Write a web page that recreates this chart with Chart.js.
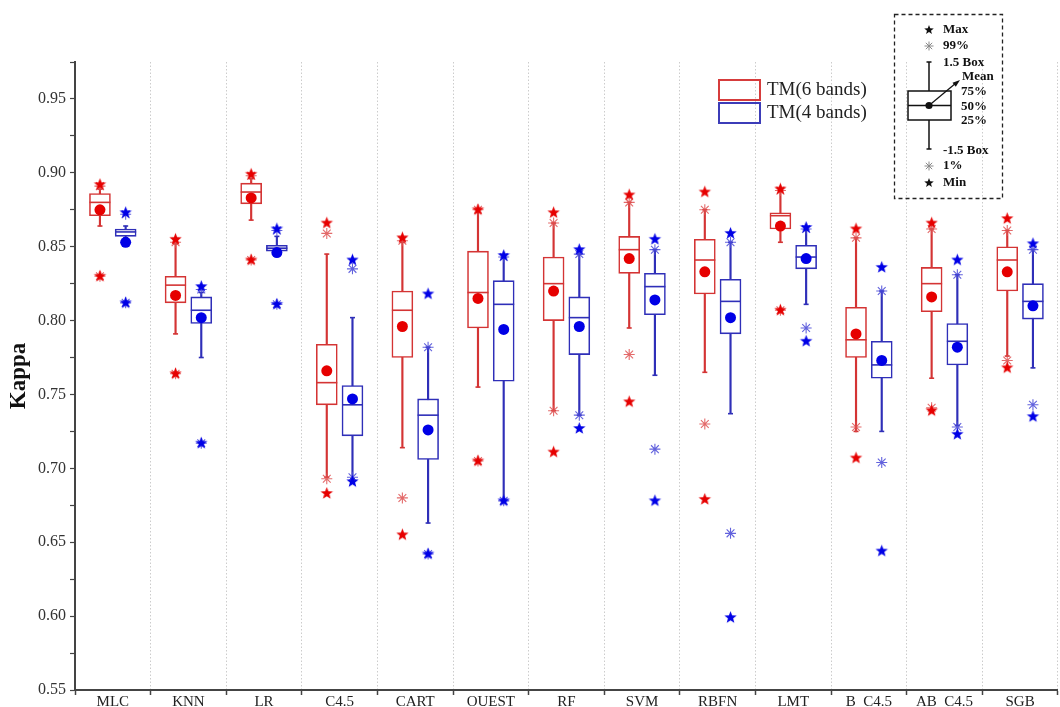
<!DOCTYPE html>
<html>
<head>
<meta charset="utf-8">
<title>Kappa by classifier</title>
<script src="https://cdn.jsdelivr.net/npm/chart.js@4.4.0/dist/chart.umd.min.js"></script>
<style>
  html, body { margin: 0; padding: 0; overflow: hidden; background: #fff; }
  canvas { display: block; }
</style>
</head>
<body>
<canvas id="chart" width="1070" height="707"></canvas>
<script>
// Classifiers along the x axis
const categories = ['MLC', 'KNN', 'LR', 'C4.5', 'CART', 'OUEST', 'RF', 'SVM', 'RBFN', 'LMT', 'B  C4.5', 'AB  C4.5', 'SGB'];

// Kappa summary statistics, TM (6 bands)
const tm6Max     = [0.892, 0.855, 0.899, 0.866, 0.856, 0.875, 0.873, 0.885, 0.887, 0.889, 0.862, 0.866, 0.869];
const tm6P99     = [0.891, 0.853, 0.898, 0.859, 0.854, 0.875, 0.866, 0.880, 0.875, 0.888, 0.856, 0.862, 0.861];
const tm6WhiskHi = [0.889, 0.852, 0.896, 0.845, 0.853, 0.875, 0.866, 0.880, 0.875, 0.888, 0.856, 0.862, 0.861];
const tm6Q3      = [0.886, 0.830, 0.893, 0.784, 0.820, 0.847, 0.843, 0.857, 0.855, 0.873, 0.809, 0.836, 0.850];
const tm6Median  = [0.880, 0.824, 0.887, 0.758, 0.807, 0.819, 0.825, 0.848, 0.841, 0.871, 0.787, 0.825, 0.841];
const tm6Q1      = [0.871, 0.812, 0.879, 0.743, 0.775, 0.795, 0.800, 0.832, 0.818, 0.862, 0.775, 0.806, 0.820];
const tm6WhiskLo = [0.864, 0.791, 0.868, 0.694, 0.714, 0.755, 0.739, 0.795, 0.765, 0.853, 0.725, 0.761, 0.776];
const tm6P1      = [0.830, 0.764, 0.841, 0.693, 0.680, 0.705, 0.739, 0.777, 0.730, 0.807, 0.728, 0.741, 0.773];
const tm6Min     = [0.830, 0.764, 0.841, 0.683, 0.655, 0.705, 0.711, 0.745, 0.679, 0.807, 0.707, 0.739, 0.768];
const tm6Mean    = [0.875, 0.817, 0.883, 0.766, 0.796, 0.815, 0.820, 0.842, 0.833, 0.864, 0.791, 0.816, 0.833];

// Kappa summary statistics, TM (4 bands)
const tm4Max     = [0.873, 0.823, 0.862, 0.841, 0.818, 0.844, 0.848, 0.855, 0.859, 0.863, 0.836, 0.841, 0.852];
const tm4P99     = [0.872, 0.821, 0.861, 0.835, 0.782, 0.843, 0.845, 0.848, 0.853, 0.862, 0.820, 0.831, 0.848];
const tm4WhiskHi = [0.864, 0.819, 0.857, 0.802, 0.782, 0.843, 0.845, 0.848, 0.853, 0.862, 0.820, 0.831, 0.848];
const tm4Q3      = [0.862, 0.816, 0.851, 0.756, 0.747, 0.827, 0.816, 0.832, 0.828, 0.851, 0.786, 0.798, 0.825];
const tm4Median  = [0.860, 0.807, 0.849, 0.743, 0.736, 0.811, 0.802, 0.823, 0.813, 0.843, 0.770, 0.786, 0.813];
const tm4Q1      = [0.857, 0.798, 0.847, 0.722, 0.706, 0.759, 0.777, 0.804, 0.791, 0.835, 0.761, 0.770, 0.801];
const tm4WhiskLo = [0.856, 0.775, 0.845, 0.693, 0.663, 0.678, 0.736, 0.763, 0.737, 0.811, 0.725, 0.729, 0.768];
const tm4P1      = [0.812, 0.717, 0.811, 0.694, 0.642, 0.678, 0.736, 0.713, 0.656, 0.795, 0.704, 0.728, 0.743];
const tm4Min     = [0.812, 0.717, 0.811, 0.691, 0.642, 0.678, 0.727, 0.678, 0.599, 0.786, 0.644, 0.723, 0.735];
const tm4Mean    = [0.853, 0.802, 0.846, 0.747, 0.726, 0.794, 0.796, 0.814, 0.802, 0.842, 0.773, 0.782, 0.810];

// Y axis range and steps
const yMin = 0.55, yMax = 0.975, yMinorStep = 0.025, yMajorStep = 0.05;

const SERIF = '"Liberation Serif", "Times New Roman", serif';
Chart.defaults.font.family = SERIF;

// Filled five-point star used for max / min markers
function starImage(color, r) {
  const c = document.createElement('canvas');
  const s = Math.ceil(r * 2 + 2);
  c.width = s; c.height = s;
  const g = c.getContext('2d');
  g.fillStyle = color;
  g.beginPath();
  for (let k = 0; k < 10; k++) {
    const rr = k % 2 === 0 ? r : r * 0.42;
    const a = -Math.PI / 2 + k * Math.PI / 5;
    const px = s / 2 + rr * Math.cos(a), py = s / 2 + rr * Math.sin(a);
    k === 0 ? g.moveTo(px, py) : g.lineTo(px, py);
  }
  g.closePath();
  g.fill();
  return c;
}

const SHIFT = 0.17;      // half the spacing between the paired boxes (category units)
const BOX_W = 21;        // box width in px

const series = [
  { side: -1, mark: '#e60000', line: '#d43434', soft: 'rgba(222,80,80,0.85)',
    max: tm6Max, p99: tm6P99, hi: tm6WhiskHi, q3: tm6Q3, med: tm6Median, q1: tm6Q1, lo: tm6WhiskLo, p1: tm6P1, min: tm6Min, mean: tm6Mean },
  { side: 1, mark: '#0000e6', line: '#2f2fb8', soft: 'rgba(70,70,215,0.85)',
    max: tm4Max, p99: tm4P99, hi: tm4WhiskHi, q3: tm4Q3, med: tm4Median, q1: tm4Q1, lo: tm4WhiskLo, p1: tm4P1, min: tm4Min, mean: tm4Mean }
];

const pts = (s, arr) => arr.map((v, i) => ({ x: i + s.side * SHIFT, y: v }));
const range = (s, a, b) => a.map((v, i) => ({ x: i + s.side * SHIFT, y: [v, b[i]] }));

const datasets = [];
series.forEach(s => {
  const common = { xAxisID: 'xv', yAxisID: 'y' };
  const star = starImage(s.mark, 6.5);
  datasets.push(
    { ...common, type: 'bar', data: range(s, s.lo, s.hi), backgroundColor: s.line, borderWidth: 0,
      barThickness: 1.5, grouped: false, order: 7 },
    { ...common, type: 'bar', data: range(s, s.q1, s.q3), backgroundColor: '#ffffff', borderColor: s.line,
      borderWidth: 1.6, borderSkipped: false, barThickness: BOX_W, grouped: false, order: 6 },
    { ...common, type: 'scatter', data: pts(s, s.med), pointStyle: 'line', pointRadius: BOX_W / 2,
      borderColor: s.line, borderWidth: 1.6, order: 5 },
    { ...common, type: 'scatter', data: pts(s, s.lo).concat(pts(s, s.hi)), pointStyle: 'line', pointRadius: 2.5,
      borderColor: s.line, borderWidth: 1.6, order: 5 },
    { ...common, type: 'scatter', data: pts(s, s.p99).concat(pts(s, s.p1)), pointStyle: 'star', pointRadius: 5.5,
      borderColor: s.soft, backgroundColor: s.soft, borderWidth: 1.1, order: 4 },
    { ...common, type: 'scatter', data: pts(s, s.max).concat(pts(s, s.min)), pointStyle: star, pointRadius: 6,
      order: 3 },
    { ...common, type: 'scatter', data: pts(s, s.mean), pointStyle: 'circle', pointRadius: 5.5,
      backgroundColor: s.mark, borderWidth: 0, order: 2 }
  );
});

// Series legend and box-plot key, drawn over the plot area
const keyPlugin = {
  id: 'keys',
  afterDraw(chart) {
    const ctx = chart.ctx;
    ctx.save();
    // Series legend
    const legend = [['TM(6 bands)', '#d63c3c'], ['TM(4 bands)', '#3c3cb8']];
    ctx.font = '19px ' + SERIF;
    ctx.textBaseline = 'middle';
    ctx.textAlign = 'left';
    legend.forEach(([txt, col], k) => {
      const y = 80 + k * 23;
      ctx.lineWidth = 2;
      ctx.strokeStyle = col;
      ctx.strokeRect(719, y, 41, 20);
      ctx.fillStyle = '#222';
      ctx.fillText(txt, 767, y + 10.5);
    });

    // Box-plot key
    ctx.setLineDash([4, 3]);
    ctx.lineWidth = 1.3;
    ctx.strokeStyle = '#222';
    ctx.strokeRect(894.5, 14.5, 108, 184);
    ctx.setLineDash([]);

    const cx = 929, tx = 943;
    const drawStar = (x, y, r) => {
      ctx.beginPath();
      for (let k = 0; k < 10; k++) {
        const rr = k % 2 === 0 ? r : r * 0.42;
        const a = -Math.PI / 2 + k * Math.PI / 5;
        const px = x + rr * Math.cos(a), py = y + rr * Math.sin(a);
        k === 0 ? ctx.moveTo(px, py) : ctx.lineTo(px, py);
      }
      ctx.closePath();
      ctx.fillStyle = '#111';
      ctx.fill();
    };
    const drawAst = (x, y, r) => {
      ctx.strokeStyle = '#8a8a8a';
      ctx.lineWidth = 1;
      ctx.beginPath();
      for (let k = 0; k < 4; k++) {
        const a = k * Math.PI / 4;
        ctx.moveTo(x - r * Math.cos(a), y - r * Math.sin(a));
        ctx.lineTo(x + r * Math.cos(a), y + r * Math.sin(a));
      }
      ctx.stroke();
    };
    const seg = (x1, y1, x2, y2) => { ctx.beginPath(); ctx.moveTo(x1, y1); ctx.lineTo(x2, y2); ctx.stroke(); };

    drawStar(cx, 30, 5);
    drawAst(cx, 46, 4.5);
    drawAst(cx, 166, 4.5);
    drawStar(cx, 183, 5);

    ctx.strokeStyle = '#111';
    ctx.lineWidth = 1.5;
    seg(cx, 62, cx, 91);
    seg(cx, 120, cx, 149);
    seg(cx - 2.5, 62, cx + 2.5, 62);
    seg(cx - 2.5, 149, cx + 2.5, 149);
    ctx.strokeRect(908, 91, 43, 29);
    seg(908, 105.5, 951, 105.5);
    ctx.fillStyle = '#111';
    ctx.beginPath(); ctx.arc(cx, 105.5, 3.6, 0, Math.PI * 2); ctx.fill();
    // arrow from mean to its label
    ctx.lineWidth = 1.2;
    seg(cx, 105.5, 956, 83);
    ctx.beginPath();
    ctx.moveTo(960, 80); ctx.lineTo(952.5, 82.8); ctx.lineTo(955.8, 86.8); ctx.closePath(); ctx.fill();

    ctx.font = 'bold 13px ' + SERIF;
    ctx.fillStyle = '#111';
    ctx.textBaseline = 'middle';
    [['Max', tx, 30], ['99%', tx, 46], ['1.5 Box', tx, 63], ['Mean', 962, 77], ['75%', 961, 92],
     ['50%', 961, 107], ['25%', 961, 121], ['-1.5 Box', tx, 151], ['1%', tx, 166], ['Min', tx, 183]]
      .forEach(([t, x, y]) => ctx.fillText(t, x, y));
    ctx.restore();
  }
};

new Chart(document.getElementById('chart'), {
  type: 'bar',
  data: { datasets },
  options: {
    responsive: false,
    animation: false,
    events: [],
    layout: { padding: { top: 62, right: 3, left: 0, bottom: 0 } },
    plugins: { legend: { display: false }, tooltip: { enabled: false } },
    scales: {
      x: {
        type: 'category',
        labels: categories,
        offset: true,
        grid: { display: true, offset: true, color: '#cccccc', lineWidth: 1, drawTicks: true,
                tickLength: 5, tickColor: '#444', tickWidth: 1.5, tickBorderDash: [] },
        border: { display: true, color: '#444', width: 2, dash: [1.5, 2] },
        ticks: { color: '#222', font: { size: 15 }, padding: -2, maxRotation: 0, autoSkip: false },
        afterFit(scale) { scale.height = 17; }
      },
      xv: {
        type: 'linear',
        display: false,
        offset: false,
        grid: { offset: false },
        bounds: 'ticks',
        min: -0.5,
        max: categories.length - 0.5
      },
      y: {
        type: 'linear',
        min: yMin,
        max: yMax,
        grid: { drawOnChartArea: false, drawTicks: true, tickLength: 5, tickColor: '#444', tickWidth: 1.2 },
        border: { display: true, color: '#444', width: 2 },
        ticks: {
          stepSize: yMinorStep,
          color: '#333',
          font: { size: 16 },
          padding: 4,
          autoSkip: false,
          callback(v) {
            const k = Math.round(v * 1000);
            return k % Math.round(yMajorStep * 1000) === 0 ? (k / 1000).toFixed(2) : '';
          }
        },
        title: { display: true, text: 'Kappa', color: '#111', font: { size: 23, weight: 'bold' },
                 padding: { top: 5, bottom: 0 } },
        afterFit(scale) { scale.width = 75; }
      }
    }
  },
  plugins: [keyPlugin]
});
</script>
</body>
</html>
